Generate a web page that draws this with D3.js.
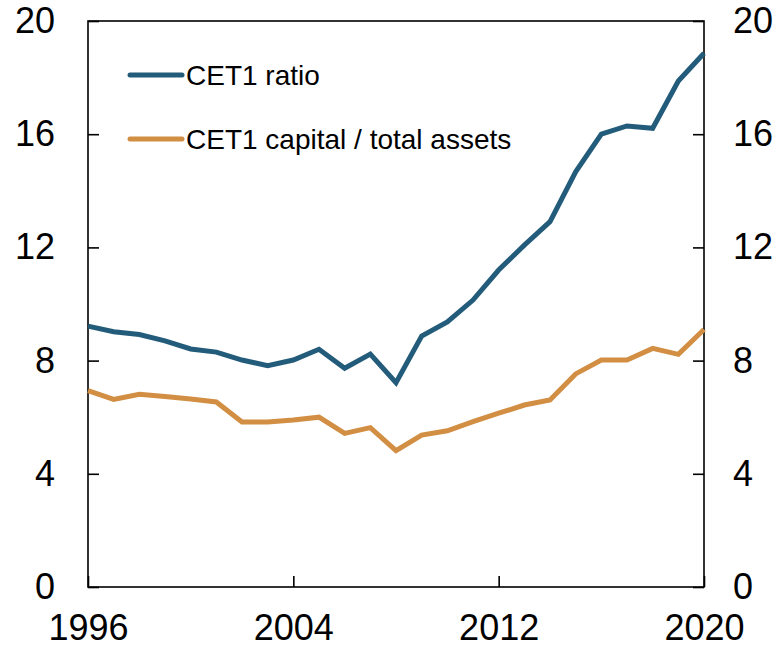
<!DOCTYPE html>
<html>
<head>
<meta charset="utf-8">
<script src="https://cdn.jsdelivr.net/npm/d3@7"></script>
<style>
  body { margin: 0; background: #fff; }
  svg { font-family: "Liberation Sans", Arial, sans-serif; }
</style>
</head>
<body>
<div id="chart"></div>
<script>
var years = d3.range(1996, 2021);
var cet1Ratio = [9.22, 9.02, 8.92, 8.70, 8.41, 8.30, 8.02, 7.82, 8.02, 8.40, 7.73, 8.23, 7.22,
  8.87, 9.37, 10.14, 11.2, 12.08, 12.91, 14.67, 16.0, 16.29, 16.21, 17.88, 18.86];
var cet1Assets = [6.94, 6.63, 6.81, 6.73, 6.64, 6.54, 5.83, 5.83, 5.90, 6.0, 5.43, 5.63, 4.82,
  5.37, 5.52, 5.84, 6.14, 6.43, 6.61, 7.53, 8.02, 8.02, 8.43, 8.22, 9.1];
var yTicks = [0, 4, 8, 12, 16, 20];
var xTicks = [1996, 2004, 2012, 2020];
var seriesNames = ["CET1 ratio", "CET1 capital / total assets"];
var seriesColors = ["#235b7a", "#d28e43"];

var margins = { top: 21, right: 76, bottom: 61, left: 88 },
  width = 780 - margins.left - margins.right,
  height = 648 - margins.top - margins.bottom;

var svg = d3.select("#chart")
  .append("svg")
  .attr("width", 780)
  .attr("height", 648)
  .append("g")
  .attr("transform", "translate(" + margins.left + "," + margins.top + ")");

var x = d3.scaleLinear().domain([1996, 2020]).range([0, width]);
var y = d3.scaleLinear().domain([0, 20]).range([height, 0]);

// frame
svg.append("rect").attr("width", width).attr("height", height)
  .attr("fill", "none").attr("stroke", "#000").attr("stroke-width", 1.6);

var leftAxis = svg.append("g")
  .call(d3.axisLeft(y).tickValues(yTicks).tickSizeInner(-11).tickSizeOuter(0));
var rightAxis = svg.append("g").attr("transform", "translate(" + width + ",0)")
  .call(d3.axisRight(y).tickValues(yTicks).tickSizeInner(-11).tickSizeOuter(0));
var bottomAxis = svg.append("g").attr("transform", "translate(0," + height + ")")
  .call(d3.axisBottom(x).tickValues(xTicks).tickFormat(d3.format("d")).tickSizeInner(-11).tickSizeOuter(0));

[leftAxis, rightAxis, bottomAxis].forEach(function (a) {
  a.select(".domain").remove();
  a.selectAll("line").attr("stroke", "#000").attr("stroke-width", 1.6);
  a.selectAll("text").style("font-size", "36px").attr("fill", "#000")
    .style("font-family", "'Liberation Sans', Arial, sans-serif");
});
rightAxis.selectAll("text").attr("x", 29);
leftAxis.selectAll("text").attr("x", -33);
bottomAxis.selectAll("text").attr("y", 27);

var line = d3.line().x(function (d, i) { return x(years[i]); }).y(function (d) { return y(d); });

[cet1Ratio, cet1Assets].forEach(function (s, i) {
  svg.append("path").datum(s)
    .attr("fill", "none")
    .attr("stroke", seriesColors[i])
    .attr("stroke-width", 5)
    .attr("d", line);
});

// legend
seriesNames.forEach(function (name, i) {
  var ly = 54 + i * 64;
  svg.append("line").attr("x1", 42).attr("x2", 94).attr("y1", ly).attr("y2", ly)
    .attr("stroke", seriesColors[i]).attr("stroke-width", 5).attr("stroke-linecap", "round");
  svg.append("text").attr("x", 98).attr("y", ly).attr("dy", "0.35em")
    .style("font-size", "28px").text(name);
});
</script>
</body>
</html>
